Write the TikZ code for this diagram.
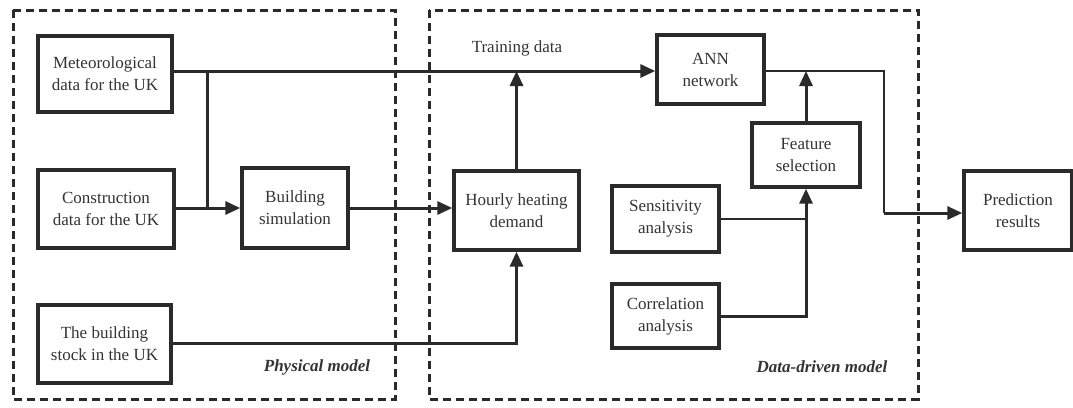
\documentclass[tikz,border=0pt]{standalone}
\usepackage{fontspec}
\setmainfont{Liberation Serif}
\usetikzlibrary{arrows.meta}
\definecolor{linec}{HTML}{2A2A2A}
\definecolor{textc}{HTML}{333333}
\begin{document}
\begin{tikzpicture}[x=1pt,y=-1pt,
  box/.style={draw=linec,line width=3.4pt,align=center,text=textc,inner sep=0pt,
    font=\fontsize{17}{22}\selectfont},
  frame/.style={draw=linec,line width=3pt,dash pattern=on 8pt off 5pt},
  thk/.style={draw=linec,line width=3pt},
  thn/.style={draw=linec,line width=2.4pt},
  tip/.style={-{Triangle[length=15pt,width=13pt]}},
  lbl/.style={text=textc,font=\fontsize{17}{22}\selectfont,inner sep=0pt}]
\useasboundingbox (0,0) rectangle (1073,407);
% frames
\draw[frame] (13,10) rectangle (395,399);
\draw[frame] (429,10) rectangle (918,399);
% nodes
\node[box,minimum width=134pt,minimum height=76pt] (met) at (105,74) {Meteorological\\data for the UK};
\node[box,minimum width=136pt,minimum height=78pt] (con) at (106,209) {Construction\\data for the UK};
\node[box,minimum width=133pt,minimum height=78pt] (stock) at (104.5,344) {The building\\stock in the UK};
\node[box,minimum width=106pt,minimum height=80pt] (sim) at (295,208) {Building\\simulation};
\node[box,minimum width=125pt,minimum height=79pt] (hour) at (516.5,210.5) {Hourly heating\\demand};
\node[box,minimum width=107pt,minimum height=69pt] (ann) at (710.5,69.5) {ANN\\network};
\node[box,minimum width=108pt,minimum height=64pt] (feat) at (806,155) {Feature\\selection};
\node[box,minimum width=107pt,minimum height=66pt] (sens) at (665.5,219) {Sensitivity\\analysis};
\node[box,minimum width=107pt,minimum height=64pt] (corr) at (665.5,316) {Correlation\\analysis};
\node[box,minimum width=108pt,minimum height=79pt] (pred) at (1018,210.5) {Prediction\\results};
% labels
\node[lbl] (train) at (517,48) {Training data};
\node[lbl,font=\fontsize{17}{22}\selectfont\bfseries\itshape] (phys) at (317,367) {Physical model};
\node[lbl,font=\fontsize{17}{22}\selectfont\bfseries\itshape] (dd) at (822,367) {Data-driven model};
% junction coordinates
\coordinate (j1) at (207,71);
\coordinate (j1b) at (207,208);
\coordinate (j2) at (516.5,71);
\coordinate (j3) at (806,71);
\coordinate (k1) at (884,71);
\coordinate (k2) at (884,213);
\coordinate (s1) at (806,219);
\coordinate (c1) at (806,316);
\coordinate (b1) at (516.5,343);
% connectors
\draw[thk,tip] (met.east |- j1) -- (ann.west |- j1);
\draw[thk] (j1) -- (j1b);
\draw[thk,tip] (con.east |- j1b) -- (sim.west |- j1b);
\draw[thk,tip] (sim.east |- j1b) -- (hour.west |- j1b);
\draw[thk,tip] (hour.north) -- (j2);
\draw[thk,tip] (stock.east |- b1) -- (b1) -- (hour.south);
\draw[thn] (ann.east |- k1) -- (k1) -- (k2);
\draw[thk,tip] (k2) -- (pred.west |- k2);
\draw[thk,tip] (feat.north) -- (j3);
\draw[thn] (sens.east |- s1) -- (s1);
\draw[thk,tip] (corr.east |- c1) -- (c1) -- (feat.south);
\end{tikzpicture}
\end{document}
